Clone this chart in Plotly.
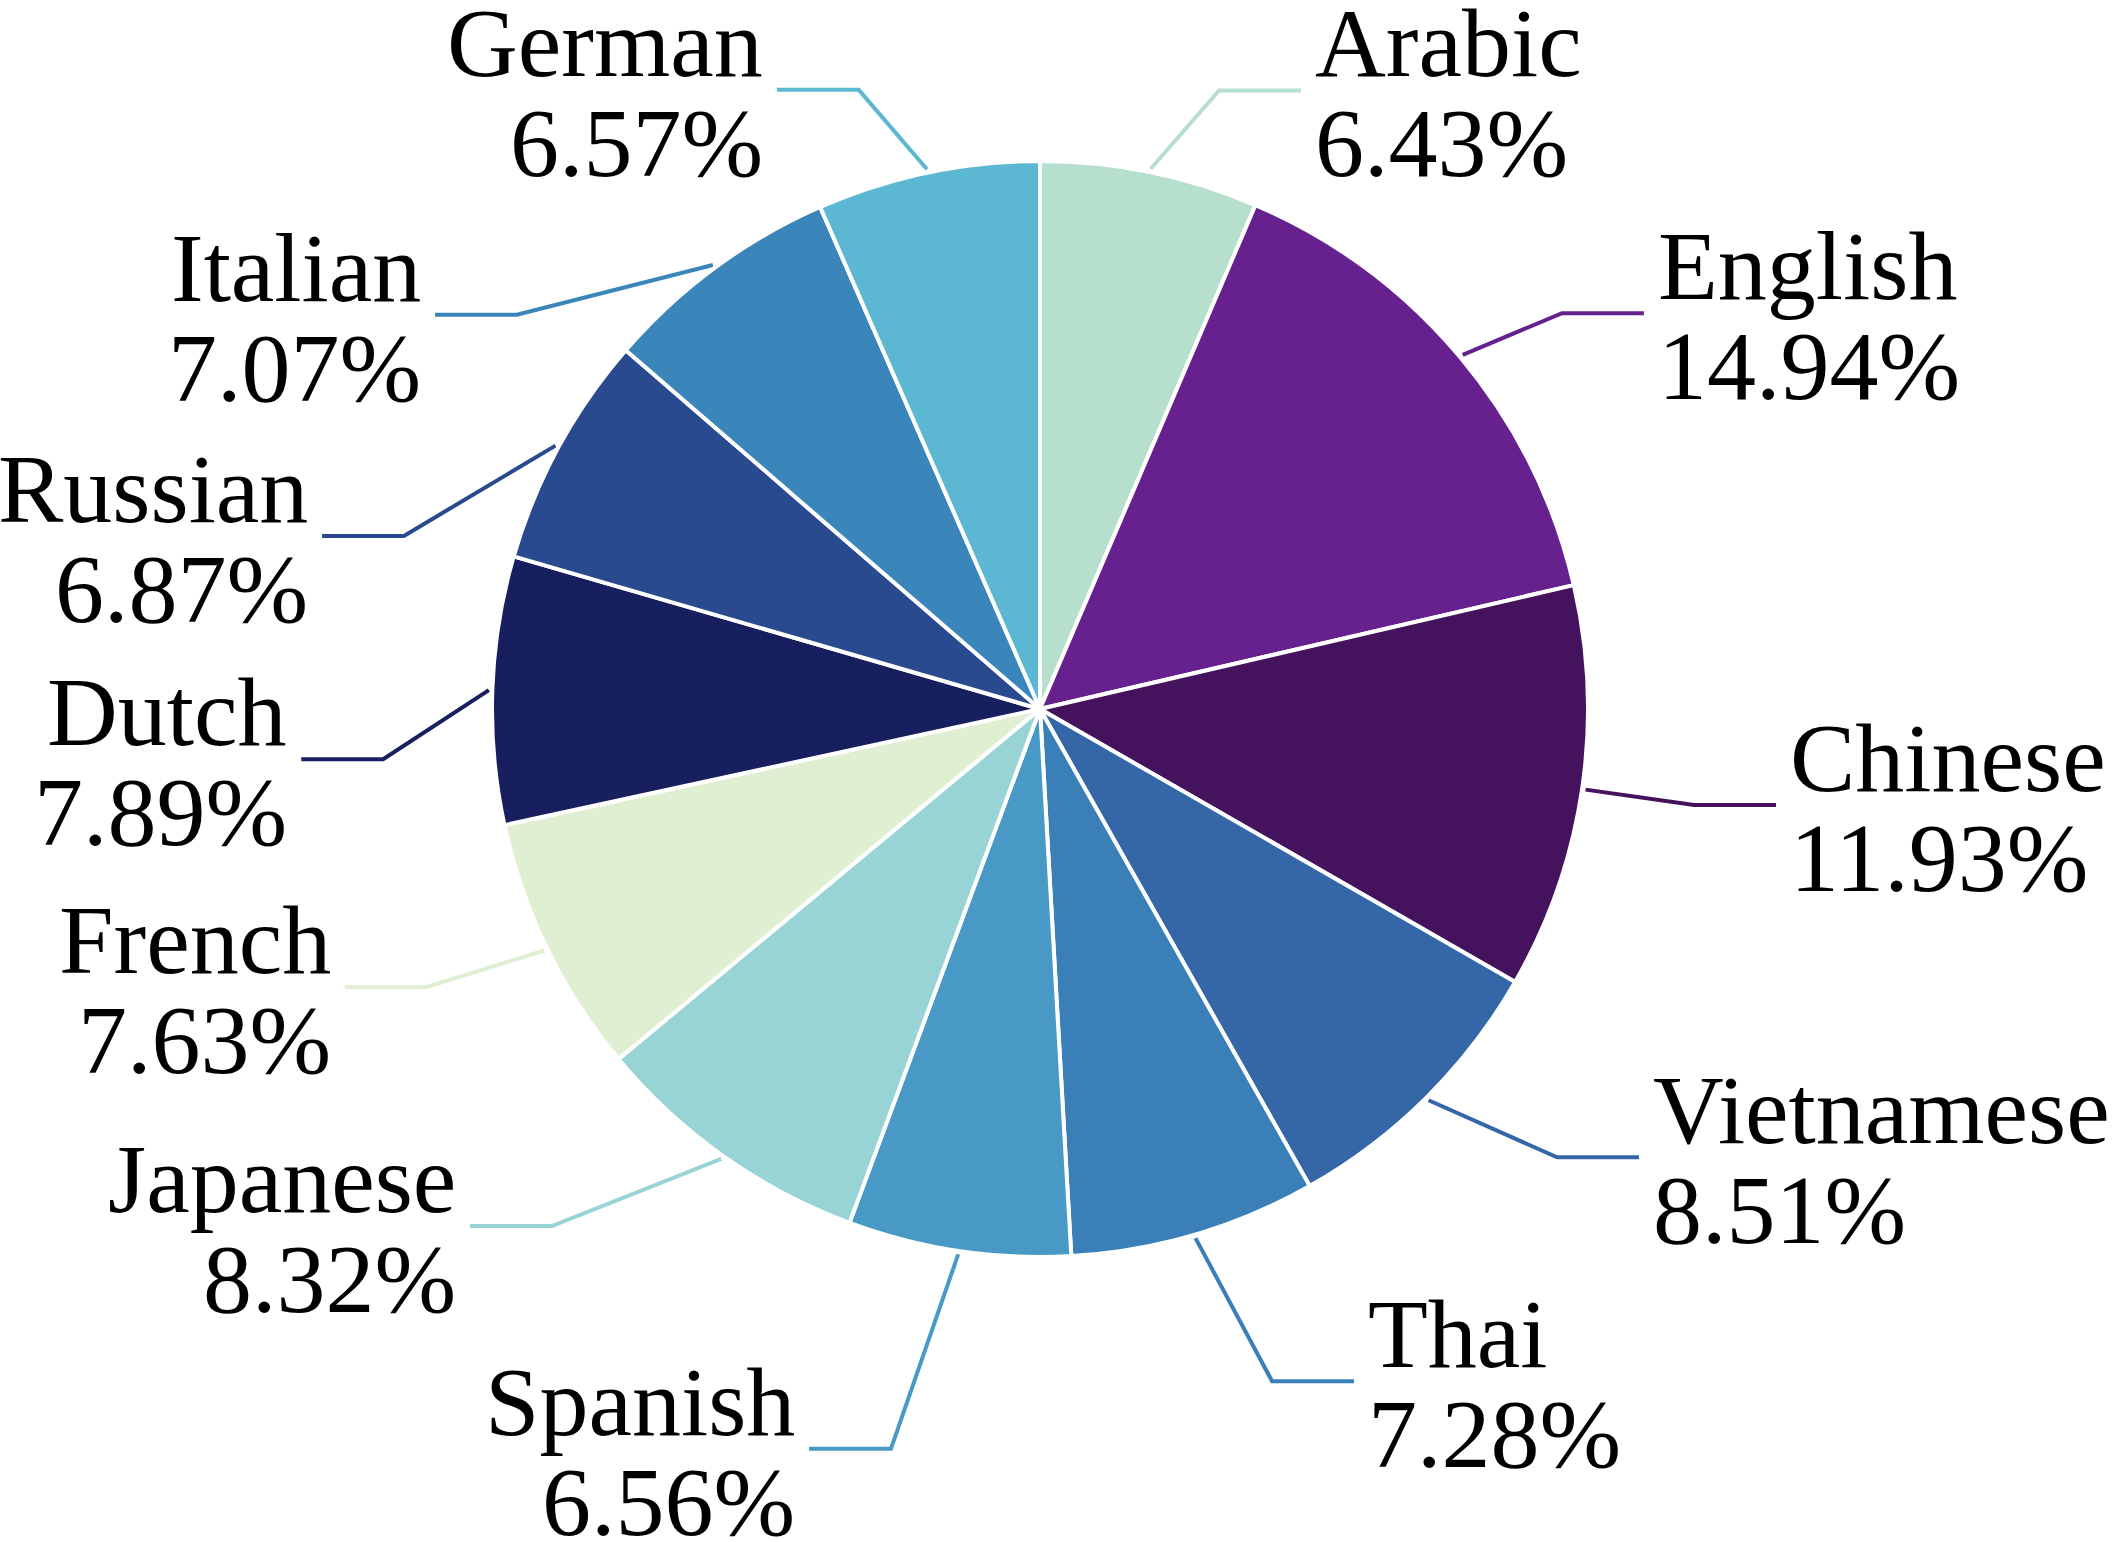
import numpy as np
import plotly.graph_objects as go

# ---------------- data ----------------
LANGUAGES = ["Arabic", "English", "Chinese", "Vietnamese", "Thai", "Spanish",
             "Japanese", "French", "Dutch", "Russian", "Italian", "German"]
SHARES = [6.43, 14.94, 11.93, 8.51, 7.28, 6.56, 8.32, 7.63, 7.89, 6.87, 7.07, 6.57]

# ---------------- style / layout ----------------
COLORS = ["#b7dfcd", "#66218f", "#45125e", "#3567a8", "#3a7fb8", "#4899c6",
          "#98d4d5", "#e0eed2", "#171f5e", "#2a4a8f", "#3a86ba", "#5cb8d2"]

W, H = 2117, 1542
CX, CY, R = 1040, 709, 546          # pie centre / radius in pixels
# elbow points of the leader lines, in pie-radius units
ELBOW_X = [0.328, 0.956, 1.198, 0.947, 0.425, -0.273, -0.894, -1.123, -1.203, -1.165, -0.958, -0.332]
ELBOW_Y = [1.133, 0.725, -0.176, -0.821, -1.231, -1.355, -0.947, -0.509, -0.092, 0.317, 0.722, 1.134]
HSEG = 0.15
FONT = "Liberation Serif, Times New Roman, serif"
FS = 98

fig = go.Figure()
RP = R + 2
fig.add_trace(go.Pie(
    labels=LANGUAGES, values=SHARES, sort=False, direction="clockwise", rotation=0,
    marker=dict(colors=COLORS, line=dict(color="white", width=4)),
    textinfo="none", hoverinfo="label+percent", showlegend=False,
    domain=dict(x=[(CX - RP) / W, (CX + RP) / W], y=[(H - CY - RP) / H, (H - CY + RP) / H]),
))

total = sum(SHARES)
cum = 0.0
annotations = []
for name, v, c, ex, ey in zip(LANGUAGES, SHARES, COLORS, ELBOW_X, ELBOW_Y):
    mid = np.deg2rad(90 - 360 * (cum + v / 2) / total)
    cum += v
    sx, sy = 1.01 * np.cos(mid), 1.01 * np.sin(mid)
    side = 1 if ex > 0 else -1
    tx = ex + side * HSEG
    fig.add_trace(go.Scatter(x=[sx, ex, tx], y=[sy, ey, ey], mode="lines",
                             line=dict(color=c, width=4), hoverinfo="skip",
                             showlegend=False))
    xa = "left" if side > 0 else "right"
    for txt, ys in ((name, 47), (f"{v:.2f}%", -53)):
        annotations.append(dict(x=tx, y=ey, xref="x", yref="y", text=txt, showarrow=False,
                                xanchor=xa, yanchor="middle", xshift=side * 12, yshift=ys,
                                font=dict(family=FONT, size=FS, color="black")))

fig.update_layout(
    width=W, height=H, margin=dict(l=0, r=0, t=0, b=0),
    paper_bgcolor="white", plot_bgcolor="white",
    xaxis=dict(range=[-CX / R, (W - CX) / R], visible=False, fixedrange=True),
    yaxis=dict(range=[-(H - CY) / R, CY / R], visible=False, fixedrange=True),
    annotations=annotations,
)

fig.write_html("out.html", config={"displayModeBar": False},
               post_script="document.body.style.margin='0';")
